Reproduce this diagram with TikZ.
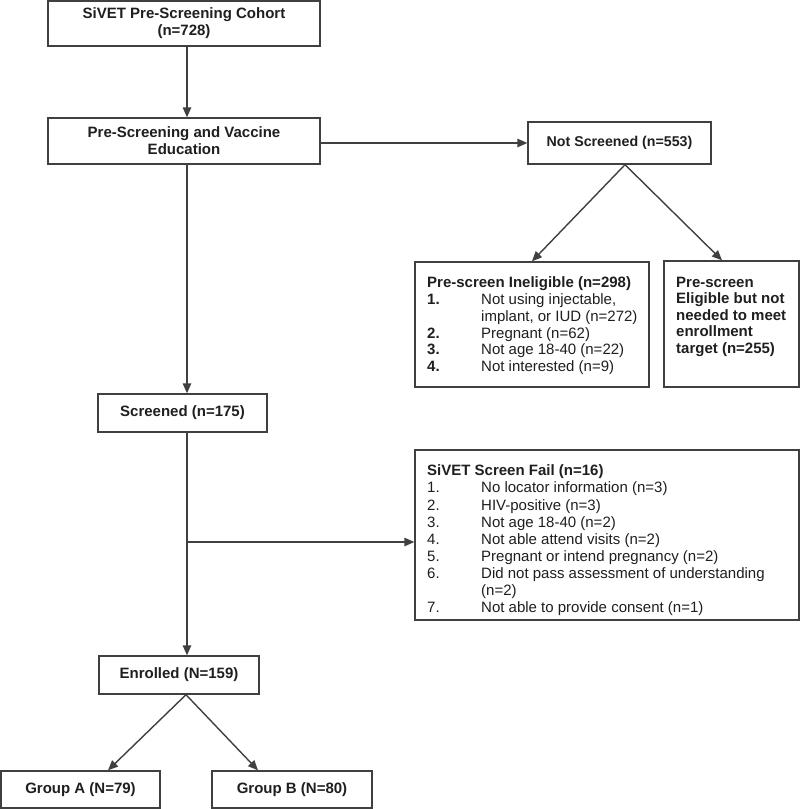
\documentclass[tikz,border=0pt]{standalone}
\usepackage{fontspec}
\setmainfont{Liberation Sans}
\usetikzlibrary{arrows.meta}
\definecolor{boxc}{gray}{0.25}
\definecolor{txtc}{gray}{0.12}
\newcommand\numbox[1]{\makebox[54pt][l]{#1}}
\begin{document}
\begin{tikzpicture}[x=1pt,y=-1pt,
  box/.style={draw=boxc, line width=1.4pt, rectangle, inner sep=0pt, text=txtc,
    font=\fontsize{15}{17}\selectfont\bfseries, align=center},
  lst/.style={anchor=base west, inner sep=0pt, text=txtc, font=\fontsize{15}{17}\selectfont},
  arr/.style={draw=boxc, line width=1.4pt, -{Triangle[length=10pt,width=8.5pt]}}]
\useasboundingbox (0,0) rectangle (800,809);
\fill[white] (0,0) rectangle (800,809);

% boxes
\node[box,minimum width=272pt,minimum height=45pt] (b1) at (184,23.5) {SiVET Pre-Screening Cohort\\(n=728)};
\node[box,minimum width=272pt,minimum height=46pt] (b2) at (184,141) {Pre-Screening and Vaccine\\Education};
\node[box,minimum width=183pt,minimum height=42pt,font=\fontsize{14.2}{17}\selectfont\bfseries] (ns) at (619.5,143) {Not Screened (n=553)};
\node[box,minimum width=234pt,minimum height=125pt] (inel) at (532,324.5) {};
\node[box,minimum width=135pt,minimum height=126pt] (elig) at (731.5,324) {};
\node[box,minimum width=169pt,minimum height=38pt] (scr) at (182.5,413) {Screened (n=175)};
\node[box,minimum width=384pt,minimum height=170pt] (fail) at (607,535) {};
\node[box,minimum width=160pt,minimum height=38pt] (enr) at (179,675) {Enrolled (N=159)};
\node[box,minimum width=159pt,minimum height=37pt] (ga) at (80.5,789.5) {Group A (N=79)};
\node[box,minimum width=160pt,minimum height=37pt] (gb) at (292,789.5) {Group B (N=80)};

% Pre-screen Ineligible text
\node[lst] (i0) at (427,287) {\bfseries Pre-screen Ineligible (n=298)};
\node[lst] (i1) at (427,304) {\numbox{\bfseries 1.}Not using injectable,};
\node[lst] (i1b) at (427,321) {\numbox{}implant, or IUD (n=272)};
\node[lst] (i2) at (427,338) {\numbox{\bfseries 2.}Pregnant (n=62)};
\node[lst] (i3) at (427,354.5) {\numbox{\bfseries 3.}Not age 18-40 (n=22)};
\node[lst] (i4) at (427,371) {\numbox{\bfseries 4.}Not interested (n=9)};

% Pre-screen Eligible text
\node[lst,font=\fontsize{15}{17}\selectfont\bfseries] (e1) at (676,287) {Pre-screen};
\node[lst,font=\fontsize{15}{17}\selectfont\bfseries] (e2) at (676,303.5) {Eligible but not};
\node[lst,font=\fontsize{15}{17}\selectfont\bfseries] (e3) at (676,320) {needed to meet};
\node[lst,font=\fontsize{15}{17}\selectfont\bfseries] (e4) at (676,336.5) {enrollment};
\node[lst,font=\fontsize{15}{17}\selectfont\bfseries] (e5) at (676,353) {target (n=255)};

% SiVET Screen Fail text
\node[lst] (f0) at (427,475) {\bfseries SiVET Screen Fail (n=16)};
\node[lst] (f1) at (427,492.5) {\numbox{1.}No locator information (n=3)};
\node[lst] (f2) at (427,510) {\numbox{2.}HIV-positive (n=3)};
\node[lst] (f3) at (427,527) {\numbox{3.}Not age 18-40 (n=2)};
\node[lst] (f4) at (427,544.5) {\numbox{4.}Not able attend visits (n=2)};
\node[lst] (f5) at (427,561.5) {\numbox{5.}Pregnant or intend pregnancy (n=2)};
\node[lst] (f6) at (427,578) {\numbox{6.}Did not pass assessment of understanding};
\node[lst] (f6b) at (427,595) {\numbox{}(n=2)};
\node[lst] (f7) at (427,612) {\numbox{7.}Not able to provide consent (n=1)};

% connectors
\coordinate (sp) at (187,0);
\coordinate (br) at (187,542);
\draw[arr] (b1.south -| sp) -- (b2.north -| sp);
\draw[arr] (b2.east |- ns.west) -- (ns.west);
\draw[arr] (b2.south -| sp) -- (scr.north -| sp);
\draw[arr] (scr.south -| sp) -- (enr.north -| sp);
\draw[arr] (br) -- (fail.west |- br);
\draw[arr] ([xshift=5.5pt]ns.south) -- (inel.north);
\draw[arr] ([xshift=5.5pt]ns.south) -- ([xshift=-9.5pt]elig.north);
\draw[arr] ([xshift=7pt]enr.south) -- ([xshift=27.5pt]ga.north);
\draw[arr] ([xshift=7pt]enr.south) -- ([xshift=-34pt]gb.north);
\end{tikzpicture}
\end{document}
